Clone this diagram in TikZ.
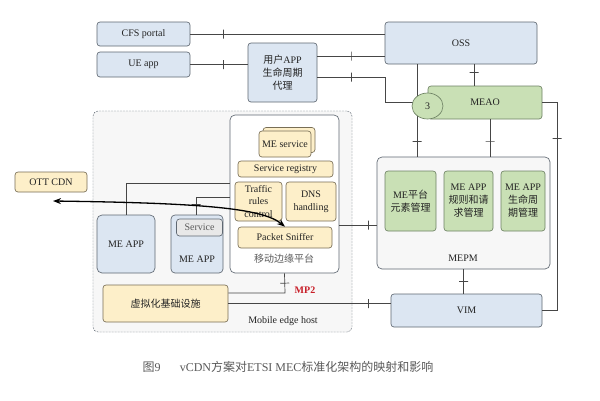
\documentclass[tikz,border=0pt]{standalone}
\usepackage{fontspec}
\setmainfont{Liberation Serif}
\newfontfamily\cjk{Noto Sans CJK SC}
\newcommand\zhs[1]{{\cjk #1}}
\usetikzlibrary{arrows.meta,shapes.geometric}
\definecolor{bfill}{RGB}{220,230,242}
\definecolor{bdr}{RGB}{95,104,114}
\definecolor{gfill}{RGB}{201,224,181}
\definecolor{gdr}{RGB}{110,130,100}
\definecolor{yfill}{RGB}{253,239,201}
\definecolor{ydr}{RGB}{120,110,85}
\definecolor{hfill}{RGB}{247,247,247}
\definecolor{lc}{RGB}{70,70,70}
\definecolor{txt}{RGB}{35,35,35}
\definecolor{capc}{RGB}{90,90,90}
\definecolor{mpred}{RGB}{200,30,40}
\begin{document}
\begin{tikzpicture}[x=1pt,y=-1pt,
 base/.style={draw=bdr, rounded corners=3pt, inner sep=1pt, align=center,
   font=\fontsize{10}{13}\selectfont, text=txt, line width=0.65pt},
 bbox/.style={base, fill=bfill},
 gbox/.style={base, fill=gfill, draw=gdr},
 ybox/.style={base, fill=yfill, draw=ydr},
 conn/.style={draw=lc, line width=0.7pt},
 tick/.style={draw=lc, line width=0.7pt, inner sep=0pt, minimum width=0pt,
   minimum height=9pt, sloped, rectangle},
 lbl/.style={font=\fontsize{10}{13}\selectfont, text=txt, inner sep=0pt},
 arr/.style={line width=1.3pt, black, {Stealth[length=8pt,width=6pt]}-{Stealth[length=8pt,width=6pt]}},
]
\useasboundingbox (0,0) rectangle (600,400);
\fill[white] (0,0) rectangle (600,400);

% Mobile edge host
\node[draw=bdr, dash pattern=on 2pt off 1pt, fill=hfill, rounded corners=5pt,
  minimum width=259pt, minimum height=221pt, inner sep=0pt] (meh) at (222.5,221.5) {};
\node[lbl] (mehl) at (283,321) {Mobile edge host};

% MEPM
\node[draw=bdr, fill=hfill, rounded corners=5pt, line width=0.65pt,
  minimum width=173pt, minimum height=112pt, inner sep=0pt] (mepm) at (463.5,213) {};
\node[lbl] (mepml) at (463,258) {MEPM};

% top boxes
\node[bbox, minimum width=93pt, minimum height=24pt] (cfs) at (143.5,34) {CFS portal};
\node[bbox, minimum width=93pt, minimum height=25pt] (ue) at (143.5,64.5) {UE app};
\node[bbox, minimum width=69pt, minimum height=59pt] (proxy) at (282.5,72.5)
  {\zhs{用户}APP\\\zhs{生命周期}\\\zhs{代理}};
\node[bbox, minimum width=152pt, minimum height=42pt] (oss) at (461,43) {OSS};
\node[gbox, minimum width=114pt, minimum height=33pt] (meao) at (485,102.5) {MEAO};

% coordinates
\coordinate (j1) at (385,102);
\coordinate (r1) at (557,102.5);
\coordinate (m2) at (285,293);
\coordinate (oarr) at (53,201);

% connectors (top)
\draw[conn] (cfs.east) -- node[tick,pos=0.17]{} (cfs.east -| oss.west);
\draw[conn] (ue.east) -- node[tick,pos=0.57]{} (ue.east -| proxy.west);
\draw[conn] ([yshift=16.5pt]proxy.east) -- node[tick,pos=0.5]{} ([yshift=16.5pt]proxy.east -| oss.west);
\draw[conn] ([yshift=-4.5pt]proxy.east) -- node[tick,pos=0.5]{} ([yshift=-4.5pt]proxy.east -| j1)
   -- (j1) -- (j1 -| 413,0);
\draw[conn] (oss.south -| 474,0) -- node[tick,pos=0.36]{} (meao.north -| 474,0);
\draw[conn] (oss.south -| 417,0) -- node[tick,pos=0.83]{} (mepm.north -| 417,0);
\draw[conn] (meao.south -| 490,0) -- node[tick,pos=0.58]{} (mepm.north -| 490,0);

\node[draw=gdr, fill=gfill, ellipse, line width=0.65pt, minimum width=31pt, minimum height=26pt,
  inner sep=0pt, font=\fontsize{10}{12}\selectfont, text=txt] (e3) at (427.5,106) {3};

% MEPM inner
\node[gbox, minimum width=51pt, minimum height=60pt] (g1) at (410.5,201) {ME\zhs{平台}\\\zhs{元素管理}};
\node[gbox, minimum width=49pt, minimum height=60pt] (g2) at (468.5,201) {ME APP\\\zhs{规则和请}\\\zhs{求管理}};
\node[gbox, minimum width=44pt, minimum height=60pt] (g3) at (523,201) {ME APP\\\zhs{生命周}\\\zhs{期管理}};

% VIM
\node[bbox, minimum width=151pt, minimum height=33pt] (vim) at (466.5,310.5) {VIM};

% Platform
\node[draw=bdr, fill=white, rounded corners=5pt, line width=0.65pt,
  minimum width=109pt, minimum height=158pt, inner sep=0pt] (plat) at (284.5,194) {};
\node[lbl, text=capc] (platl) at (284,259) {\zhs{移动边缘平台}};
\node[ybox, minimum width=52pt, minimum height=25pt] (mesb) at (289,140) {};
\node[ybox, minimum width=52pt, minimum height=26pt] (mesvc) at (285,144) {ME service};
\node[ybox, minimum width=95pt, minimum height=16pt] (reg) at (285.5,169) {Service registry};
\node[ybox, minimum width=47pt, minimum height=39pt, font=\fontsize{10}{12.5}\selectfont] (trc) at (258.5,201.5) {Traffic\\rules\\control};
\node[ybox, minimum width=50pt, minimum height=39pt] (dns) at (311,201.5) {DNS\\handling};
\node[ybox, minimum width=94pt, minimum height=21pt] (sniff) at (285,237.5) {Packet Sniffer};

% ME apps
\node[bbox, rounded corners=5pt, minimum width=58pt, minimum height=58pt] (app1) at (126,244) {ME APP};
\node[bbox, rounded corners=4pt, minimum width=52pt, minimum height=58pt] (app2) at (197,244) {};
\node[lbl] (app2l) at (197,259) {ME APP};
\node[base, fill=black!9, minimum width=46pt, minimum height=17pt, text=capc] (svc) at (199.5,227.5) {Service};

% OTT CDN
\node[ybox, minimum width=72pt, minimum height=20pt] (ott) at (51,182) {OTT CDN};

% virtualisation
\node[ybox, minimum width=125pt, minimum height=37pt] (virt) at (165.5,303.5) {\zhs{虚拟化基础设施}};

% connectors (lower)
\draw[conn] (app1.north) |- node[tick,pos=0.19]{} (plat.west |- 0,183);
\draw[conn] (app2.north -| 196,0) |- node[tick,pos=0.3]{} (plat.west |- 0,197);
\draw[conn] (plat.east |- 0,225) -- node[tick,pos=0.79]{} (mepm.west |- 0,225);
\draw[conn] (plat.south) -- node[tick,pos=0.5]{} (m2) -- (m2 -| virt.east);
\node[font=\fontsize{10}{12}\selectfont\bfseries, text=mpred, inner sep=0pt] (mp2) at (305,290) {MP2};
\draw[conn] (virt.east) -- node[tick,pos=0.865]{} (virt.east -| vim.west);
\draw[conn] (mepm.south) -- node[tick,pos=0.48]{} (mepm.south |- vim.north);
\draw[conn] (meao.east) -- (r1) -- node[tick,pos=0.17]{} (r1 |- vim.east) -- (vim.east);

% data arrow
\draw[arr] (oarr) .. controls (200,203) and (262,208) .. (sniff.north);

% caption
\node[font=\fontsize{12}{14}\selectfont, text=capc, inner sep=0pt] (cap) at (288,367)
  {\zhs{图}9\hspace{1.6em}vCDN\zhs{方案对}ETSI MEC\zhs{标准化架构的映射和影响}};
\end{tikzpicture}
\end{document}
